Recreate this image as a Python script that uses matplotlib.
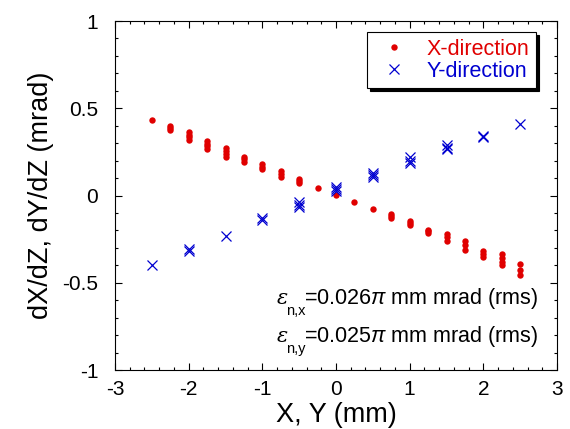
import matplotlib
matplotlib.use("Agg")
import matplotlib.pyplot as plt
from matplotlib.ticker import MultipleLocator

plt.rcParams['font.family'] = ['Liberation Sans', 'DejaVu Sans']
plt.rcParams['mathtext.fontset'] = 'custom'
plt.rcParams['mathtext.rm'] = 'Liberation Sans'
plt.rcParams['mathtext.it'] = 'Liberation Sans:italic'

# X-direction: position (mm) and slope dX/dZ (mrad)
xdir_pos = [-2.5,
            -2.25, -2.25, -2.25,
            -2.0, -2.0, -2.0, -2.0,
            -1.75, -1.75, -1.75, -1.75,
            -1.5, -1.5, -1.5, -1.5,
            -1.25, -1.25, -1.25,
            -1.0, -1.0, -1.0,
            -0.75, -0.75, -0.75,
            -0.5, -0.5, -0.5,
            -0.25, 0.0, 0.25, 0.5,
            0.75, 0.75, 0.75,
            1.0, 1.0, 1.0,
            1.25, 1.25, 1.25,
            1.5, 1.5, 1.5,
            1.75, 1.75, 1.75,
            2.0, 2.0, 2.0,
            2.25, 2.25, 2.25, 2.25,
            2.5, 2.5, 2.5]
xdir_slope = [0.433,
              0.398, 0.386, 0.375,
              0.364, 0.348, 0.333, 0.318,
              0.314, 0.298, 0.283, 0.268,
              0.272, 0.254, 0.236, 0.219,
              0.222, 0.207, 0.192,
              0.180, 0.165, 0.150,
              0.139, 0.122, 0.104,
              0.096, 0.083, 0.070,
              0.043, 0.005, -0.035, -0.077,
              -0.106, -0.117, -0.127,
              -0.146, -0.156, -0.167,
              -0.195, -0.206, -0.217,
              -0.220, -0.240, -0.260,
              -0.260, -0.285, -0.310,
              -0.318, -0.334, -0.350,
              -0.337, -0.358, -0.380, -0.400,
              -0.395, -0.425, -0.453]

# Y-direction: position (mm) and slope dY/dZ (mrad)
ydir_pos = [-2.5,
            -2.0, -2.0,
            -1.5,
            -1.0, -1.0,
            -0.5, -0.5, -0.5,
            0.0, 0.0, 0.0,
            0.5, 0.5, 0.5,
            1.0, 1.0, 1.0,
            1.5, 1.5, 1.5,
            2.0, 2.0,
            2.5]
ydir_slope = [-0.400,
              -0.305, -0.318,
              -0.232,
              -0.130, -0.143,
              -0.040, -0.055, -0.065,
              0.050, 0.035, 0.026,
              0.130, 0.115, 0.105,
              0.220, 0.200, 0.186,
              0.290, 0.275, 0.266,
              0.341, 0.336,
              0.410]

red = '#e00000'
blue = '#0000d0'

fig = plt.figure(figsize=(5.7, 4.29), dpi=100)
ax = fig.add_axes([0.2018, 0.1375, 0.7754, 0.8135])

ax.plot(xdir_pos, xdir_slope, 'o', color=red, ms=4.6, mec='none', label='X-direction')
ax.plot(ydir_pos, ydir_slope, 'x', color=blue, ms=6.8, mew=0.9, label='Y-direction')

ax.set_xlim(-3, 3)
ax.set_ylim(-1, 1)
ax.xaxis.set_minor_locator(MultipleLocator(0.2))
ax.yaxis.set_minor_locator(MultipleLocator(0.1))
ax.set_yticks([-1, -0.5, 0, 0.5, 1])
ax.set_yticklabels(['-1', '-0.5', '0', '0.5', '1'])
ax.set_xticks([-3, -2, -1, 0, 1, 2, 3])
ax.set_xticklabels(['-3', '-2', '-1', '0', '1', '2', '3'])
ax.tick_params(which='both', direction='in', top=True, right=True, width=0.8)
ax.tick_params(which='major', length=5, labelsize=15)
ax.tick_params(which='minor', length=2.5)
ax.tick_params(axis='y', which='major', pad=12)
ax.tick_params(axis='x', which='major', pad=7)
for s in ax.spines.values():
    s.set_linewidth(0.8)

ax.set_xlabel('X, Y (mm)', fontsize=19.5, labelpad=2)
ax.set_ylabel('dX/dZ, dY/dZ (mrad)', fontsize=19.5, labelpad=6)

leg = ax.legend(loc='upper right', bbox_to_anchor=(0.952, 0.968), fontsize=15.5,
                frameon=True, fancybox=False, shadow={'color': 'black', 'alpha': 1},
                handletextpad=0.55, handlelength=1.9, borderpad=0.3,
                labelspacing=0.05, borderaxespad=0)
leg.get_frame().set_edgecolor('black')
leg.get_frame().set_linewidth(0.8)
leg.get_texts()[0].set_color(red)
leg.get_texts()[1].set_color(blue)

for yy, sub, val in [(0.206, 'n,x', '0.026'), (0.095, 'n,y', '0.025')]:
    ax.text(0.367, yy, '\u03b5', transform=ax.transAxes, fontsize=15,
            family='DejaVu Serif', style='italic', ha='left', va='center')
    ax.text(0.386, yy - 0.036, sub, transform=ax.transAxes, fontsize=10.5,
            ha='left', va='center')
    ax.text(0.428, yy, '=' + val + r'$\pi$ mm mrad (rms)', transform=ax.transAxes,
            fontsize=15.5, ha='left', va='center')

fig.savefig('out.png', dpi=100)
